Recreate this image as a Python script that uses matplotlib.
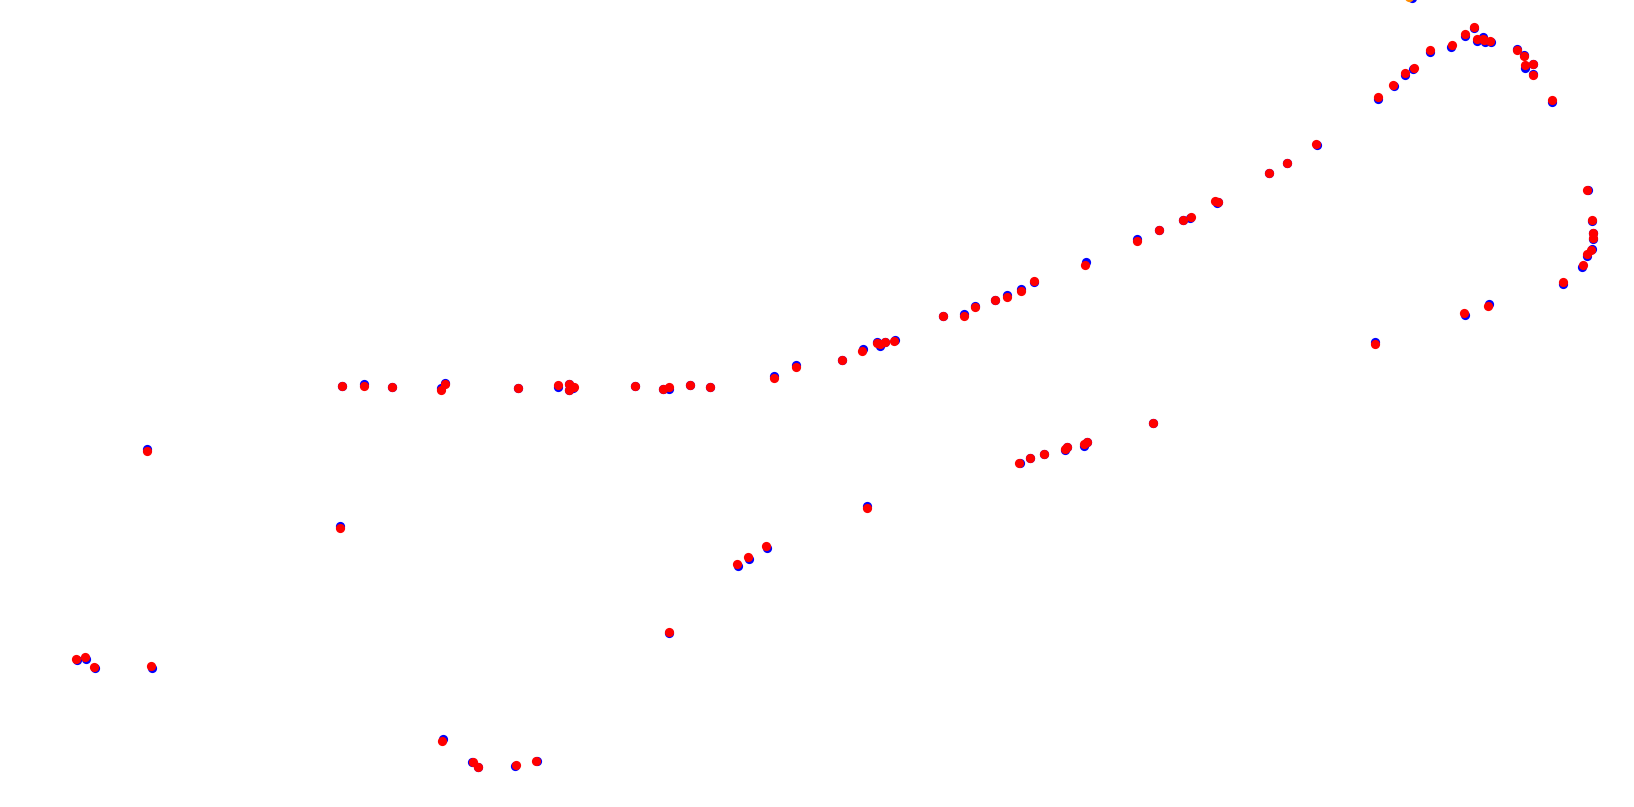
import numpy as np
import matplotlib
matplotlib.use('Agg')
import matplotlib.pyplot as plt


# ------------------------------- DATA ----------------------------------------
# Point positions (same units as the canvas, y downwards)
red_x = [76, 85, 94, 146.7, 151, 339.7, 341.7, 363.7, 392, 440.7,
         444.7, 442, 473.3, 477.7, 515.7, 536, 517.7, 558.3, 568.7, 568.7,
         574, 635, 663.3, 668.7, 668.7, 689.7, 709.7, 737, 748.3, 766,
         773.7, 795.7, 841.7, 862, 877.3, 880, 885, 894.3, 866.7, 942.7,
         963.7, 975, 995, 1006.7, 1019, 1020.7, 1030, 1033.7, 1044, 1065,
         1066.7, 1083.7, 1086.7, 1085, 1137, 1152.7, 1158.7, 1182.7, 1191, 1215.3,
         1218, 1268.7, 1286.7, 1316.3, 1374.7, 1377.7, 1393.3, 1405.3, 1414, 1430,
         1451.7, 1464.7, 1464.3, 1473.7, 1476.7, 1482.7, 1484.3, 1487.7, 1490, 1517,
         1524, 1525.3, 1532.7, 1533, 1551.7, 1563, 1583, 1586.7, 1587, 1591.3,
         1591.7, 1593, 1593]
red_y = [658.7, 657.3, 666.7, 450.7, 666, 528.3, 385.7, 385.7, 386.7, 389.7,
         384.3, 740.7, 762, 766.7, 764.7, 760.7, 388, 384.7, 384, 390,
         387, 386, 389, 386.7, 632, 384.7, 386.7, 564, 557, 545.7,
         377.7, 367.3, 360, 350.7, 343.3, 344, 341.7, 341, 507.7, 315.7,
         315.7, 306.7, 300, 296.7, 463, 290.7, 457.7, 281, 453.7, 448.7,
         447.3, 444, 442.3, 264.7, 240.7, 422.7, 229.7, 219.7, 217.3, 201,
         202, 172.7, 162.7, 144, 344.3, 97.3, 85, 73, 68, 50,
         45.3, 34, 313, 26.7, 38.7, 39.3, 40.3, 305.7, 40.7, 50,
         56, 65, 64.3, 75.3, 100, 282, 265, 254.3, 189.7, 250.3,
         220, 232.7, 237.7]

blue_x = [77, 86, 95, 146.7, 152, 339.7, 341.7, 363.7, 392, 440.7,
          444.7, 442.7, 472.3, 477.7, 514.7, 537, 517.7, 558.3, 568.7, 568.7,
          573.5, 635, 663.3, 669, 669.3, 689.7, 709.7, 737.7, 749, 766.7,
          773.7, 795.7, 841.7, 862.7, 877.3, 880, 885, 895, 866.7, 942.7,
          963.7, 975, 995, 1006.7, 1019.7, 1020.7, 1030, 1034, 1044, 1065,
          1066.7, 1083.7, 1086.7, 1085.7, 1137, 1152.7, 1158.7, 1182.7, 1190, 1217.3,
          1218, 1268.7, 1286.7, 1316.7, 1374.7, 1378, 1394, 1405, 1413.5, 1430,
          1451.5, 1464.7, 1465, 1473.7, 1477, 1483, 1485, 1488.7, 1491, 1517.3,
          1524, 1525.3, 1532.7, 1533, 1551.7, 1563, 1582.3, 1587, 1588, 1592,
          1591.7, 1593, 1593, 1412]
blue_y = [660, 658.5, 668, 448.7, 667.5, 526.3, 385.7, 384.2, 386.7, 388,
          382.8, 738.7, 762, 766.7, 766, 760.7, 388, 386.5, 384, 390,
          388, 386, 389, 388.5, 633, 384.7, 386.7, 566, 559, 547.7,
          375.7, 364.8, 360, 349.3, 342.3, 345.5, 341.7, 339.5, 505.7, 315.7,
          314.4, 305.7, 300, 294.7, 463, 289, 457.7, 282, 453.7, 450,
          447.3, 445.5, 442.3, 262.4, 239, 422.7, 229.7, 219.7, 218.3, 202.7,
          202, 172.7, 162.7, 145.3, 342.3, 98.5, 86, 74.5, 69, 51.5,
          46.5, 35.5, 315, 28, 41, 36.5, 42, 304.4, 41.5, 48.5,
          55, 68, 64.3, 74, 101.5, 283.5, 267, 256, 189.7, 249,
          221, 232.7, 239, -2.5]

# A single orange point, mostly cut off at the top edge
orange_x = [1409]
orange_y = [-3.5]

# ------------------------------ PLOTTING -------------------------------------
W, H = 1634, 807
fig = plt.figure(figsize=(W / 100, H / 100), dpi=100)
ax = fig.add_axes([0, 0, 1, 1])
ax.scatter(blue_x, blue_y, s=44, color='#0000ff', linewidths=0, zorder=1)
ax.scatter(orange_x, orange_y, s=44, color='#ff8c00', linewidths=0, zorder=2)
ax.scatter(red_x, red_y, s=44, color='#ff0000', linewidths=0, zorder=3)
ax.set_xlim(0, W)
ax.set_ylim(H, 0)
ax.axis('off')
fig.savefig('out.png', dpi=100, facecolor='white')
